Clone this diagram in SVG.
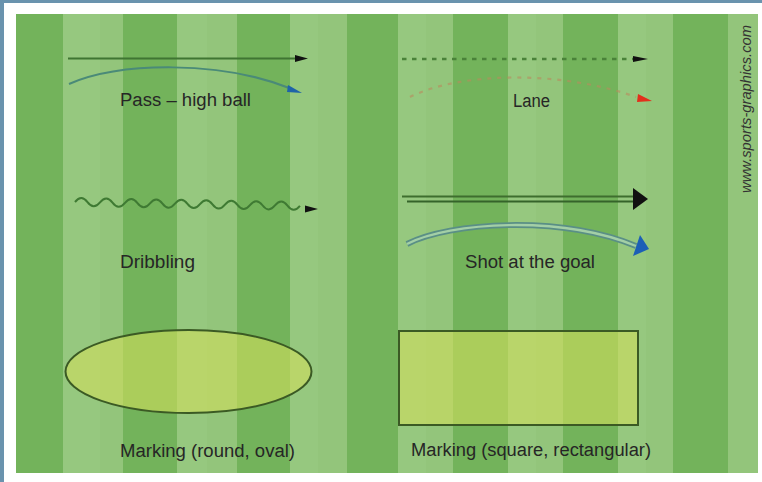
<svg xmlns="http://www.w3.org/2000/svg" width="762" height="482" viewBox="0 0 762 482">
<style>
.dark{fill:#73b35b}
.sub{fill:#9acb83;opacity:0.5}
.lbl{font-family:"Liberation Sans",Arial,sans-serif;font-size:18px;fill:#262626}
.blk{fill:#111}
.mark{fill:#d1de5b;fill-opacity:0.6;stroke:#3b5a24;stroke-width:2}
</style>
<rect width="762" height="482" fill="#ffffff"/>
<rect x="0" y="0" width="762" height="3" fill="#6a93ae"/>
<rect x="0" y="0" width="4" height="482" fill="#6a93ae"/>
<g id="field">
<rect x="16" y="14" width="742" height="459" fill="#93c57b"/>
<rect class="sub" x="63" y="14" width="37" height="459"/>
<rect class="sub" x="177" y="14" width="30" height="459"/>
<rect class="sub" x="290" y="14" width="28" height="459"/>
<rect class="sub" x="398" y="14" width="28" height="459"/>
<rect class="sub" x="508" y="14" width="28" height="459"/>
<rect class="sub" x="618" y="14" width="28" height="459"/>
<rect class="dark" x="16" y="14" width="47" height="459"/>
<rect class="dark" x="123" y="14" width="54" height="459"/>
<rect class="dark" x="237" y="14" width="53" height="459"/>
<rect class="dark" x="347" y="14" width="51" height="459"/>
<rect class="dark" x="453" y="14" width="55" height="459"/>
<rect class="dark" x="563" y="14" width="55" height="459"/>
<rect class="dark" x="673" y="14" width="55" height="459"/>
</g>
<g id="connectors">
<g id="pass-lines">
<line x1="68" y1="58.5" x2="297" y2="58.5" stroke="#3f7532" stroke-width="2.2"/>
<polygon class="blk" points="295,55 308,58.5 295,62"/>
<path d="M69,84 C120,62 220,60 292,89" fill="none" stroke="#4a8a78" stroke-width="2"/>
<polygon points="288,85 302,93 287,92" fill="#1f63a8"/>
</g>
<g id="lane-lines">
<line x1="402" y1="59" x2="633" y2="59" stroke="#4a8239" stroke-width="2.6" stroke-dasharray="4.5 5.5"/>
<polygon class="blk" points="633,56 648,59 633,62"/>
<path d="M410,97 C460,72 560,70 636,97" fill="none" stroke="#b98a5e" stroke-opacity="0.6" stroke-width="2.2" stroke-dasharray="4 6"/>
<polygon points="638,94 652,101 637,102" fill="#e2301c"/>
</g>
<g id="dribbling-lines">
<path d="M75,202 q6.25,-8 12.5,0 t12.5,0 t12.5,0 t12.5,0 t12.5,0 t12.5,0 t12.5,0 t12.5,0 t12.5,0 t12.5,0 t12.5,0 t12.5,0 t12.5,0 t12.5,0 t12.5,0 t12.5,0 t12.5,0 t12.5,0" transform="rotate(1 75 202)" fill="none" stroke="#3f7a33" stroke-width="2"/>
<polygon class="blk" points="305,205.5 318,209 305,212.5"/>
</g>
<g id="shot-lines">
<line x1="402" y1="196.5" x2="636" y2="196.5" stroke="#3e6e2e" stroke-width="1.8"/>
<line x1="407" y1="201.5" x2="636" y2="201.5" stroke="#35632a" stroke-width="2.2"/>
<polygon class="blk" points="633,188 648,199 633,210"/>
<path d="M407,244 C450,222 560,215 636,246" fill="none" stroke="#5a8f86" stroke-width="6"/>
<path d="M407,244 C450,222 560,215 636,246" fill="none" stroke="#a3cfa6" stroke-width="2.4"/>
<polygon points="640,235 649,249 633,256" fill="#1c5fb6"/>
</g>
</g>
<g id="pass"><text class="lbl" x="120" y="106" textLength="131" lengthAdjust="spacingAndGlyphs">Pass – high ball</text></g>
<g id="lane"><text class="lbl" x="513" y="107" textLength="37" lengthAdjust="spacingAndGlyphs">Lane</text></g>
<g id="dribbling"><text class="lbl" x="120" y="268" textLength="75" lengthAdjust="spacingAndGlyphs">Dribbling</text></g>
<g id="shot"><text class="lbl" x="465" y="268" textLength="130" lengthAdjust="spacingAndGlyphs">Shot at the goal</text></g>
<g id="marking-oval">
<ellipse class="mark" cx="188.5" cy="371.5" rx="123" ry="41.5"/>
<text class="lbl" x="120" y="457" textLength="175" lengthAdjust="spacingAndGlyphs">Marking (round, oval)</text>
</g>
<g id="marking-rect">
<rect class="mark" x="399" y="331" width="239" height="94"/>
<text class="lbl" x="411" y="456" textLength="240" lengthAdjust="spacingAndGlyphs">Marking (square, rectangular)</text>
</g>
<g id="credit">
<text x="0" y="0" transform="translate(751 109) rotate(-90)" text-anchor="middle" font-family="'Liberation Sans',Arial,sans-serif" font-style="italic" font-size="14.5" fill="#333" textLength="168" lengthAdjust="spacingAndGlyphs">www.sports-graphics.com</text>
</g>
</svg>
